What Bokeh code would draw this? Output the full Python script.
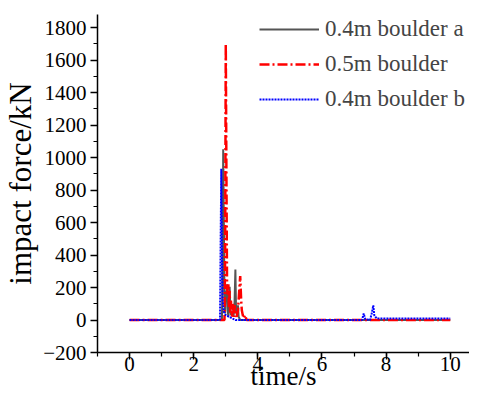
from bokeh.plotting import figure
from bokeh.models import Range1d, Legend, LegendItem, FixedTicker
from bokeh.embed import file_html
from bokeh.resources import INLINE

# 0.4m boulder a
t_a = [0, 2.88, 2.90, 2.92, 2.94, 2.96, 2.98, 3.00, 3.02, 3.04, 3.06, 3.08, 3.10, 3.12, 3.14, 3.16,
       3.20, 3.24, 3.27, 3.30, 3.32, 3.35, 3.38, 3.40, 3.45, 10]
f_a = [0, 0, 300, 1050, 600, 150, 40, 180, 120, 220, 60, 20, 130, 205, 80, 30,
       50, 20, 80, 310, 60, 30, 90, 20, 0, 0]

# 0.5m boulder
t_b = [0, 2.96, 2.98, 3.00, 3.02, 3.04, 3.06, 3.08, 3.10, 3.12, 3.14, 3.16, 3.18, 3.20, 3.22, 3.24,
       3.26, 3.28, 3.30, 3.34, 3.38, 3.42, 3.45, 3.48, 3.50, 3.53, 3.56, 3.60, 3.65, 10]
f_b = [0, 0, 400, 1700, 900, 200, 150, 220, 80, 180, 40, 120, 60, 20, 100, 50,
       20, 90, 40, 20, 60, 180, 270, 120, 60, 30, 10, 30, 0, 0]

# 0.4m boulder b
t_c = [0, 2.82, 2.84, 2.86, 2.88, 2.90, 2.94, 3.00, 3.10, 3.20, 3.30, 7.25, 7.30, 7.35, 7.50,
       7.55, 7.60, 7.63, 7.70, 10]
f_c = [0, 0, 500, 930, 400, 120, 50, 30, 20, 10, 0, 0, 40, 5, 0,
       40, 90, 30, 10, 10]

labels = ["0.4m boulder a", "0.5m boulder", "0.4m boulder b"]
y_ticks = [-200, 0, 200, 400, 600, 800, 1000, 1200, 1400, 1600, 1800]
x_ticks = [0, 2, 4, 6, 8, 10]
x_title = "time/s"
y_title = "impact force/kN"

FONT = "'Liberation Serif', serif"
TICKFONT = '"Liberation Serif", "Times New Roman", serif'

p = figure(width=469, height=396, output_backend="svg", toolbar_location=None,
           x_range=Range1d(-1, 10.6), y_range=Range1d(-200, 1880),
           min_border_left=10, min_border_right=0, min_border_top=14, min_border_bottom=44)
p.outline_line_color = None
p.grid.visible = False

r1 = p.line(t_a, f_a, line_color="#555555", line_width=2)
r2 = p.line(t_b, f_b, line_color="#ff0000", line_width=2.5, line_dash="10 3 2 3")
r3 = p.line(t_c, f_c, line_color="#0000ff", line_width=2, line_dash="2 1")

for ax in (p.xaxis[0], p.yaxis[0]):
    ax.axis_line_color = "black"
    ax.axis_line_width = 1.5
    ax.major_tick_line_color = "black"
    ax.minor_tick_line_color = "black"
    ax.major_tick_line_width = 1.5
    ax.minor_tick_line_width = 1.2
    ax.major_tick_out = 7
    ax.major_tick_in = 0
    ax.minor_tick_out = 4
    ax.minor_tick_in = 0
    ax.major_label_text_font = TICKFONT
    ax.major_label_text_font_size = "21px"
    ax.major_label_text_color = "black"
    ax.axis_label_text_font = FONT
    ax.axis_label_text_font_style = "normal"
    ax.axis_label_text_color = "black"

p.xaxis[0].ticker = FixedTicker(ticks=x_ticks, minor_ticks=list(range(-1, 11)))
p.yaxis[0].ticker = FixedTicker(ticks=y_ticks, minor_ticks=list(range(-200, 1881, 100)))
p.yaxis[0].axis_label = y_title
p.xaxis[0].axis_label = x_title
p.yaxis[0].axis_label_text_font_size = "31px"
p.xaxis[0].axis_label_text_font_size = "27px"
p.yaxis[0].axis_label_standoff = 2
p.xaxis[0].axis_label_standoff = -13
p.xaxis[0].major_label_standoff = -3
p.yaxis[0].major_label_standoff = 4

legend = Legend(items=[LegendItem(label=labels[0], renderers=[r1]),
                       LegendItem(label=labels[1], renderers=[r2]),
                       LegendItem(label=labels[2], renderers=[r3])],
                location=(162, 240), border_line_color=None, background_fill_alpha=0,
                label_text_font=FONT, label_text_font_size="23px",
                glyph_width=60, glyph_height=20, label_height=24, spacing=9,
                label_standoff=6, padding=0, margin=0)
p.add_layout(legend, "center")

open("out.html", "w").write(file_html(p, INLINE))
